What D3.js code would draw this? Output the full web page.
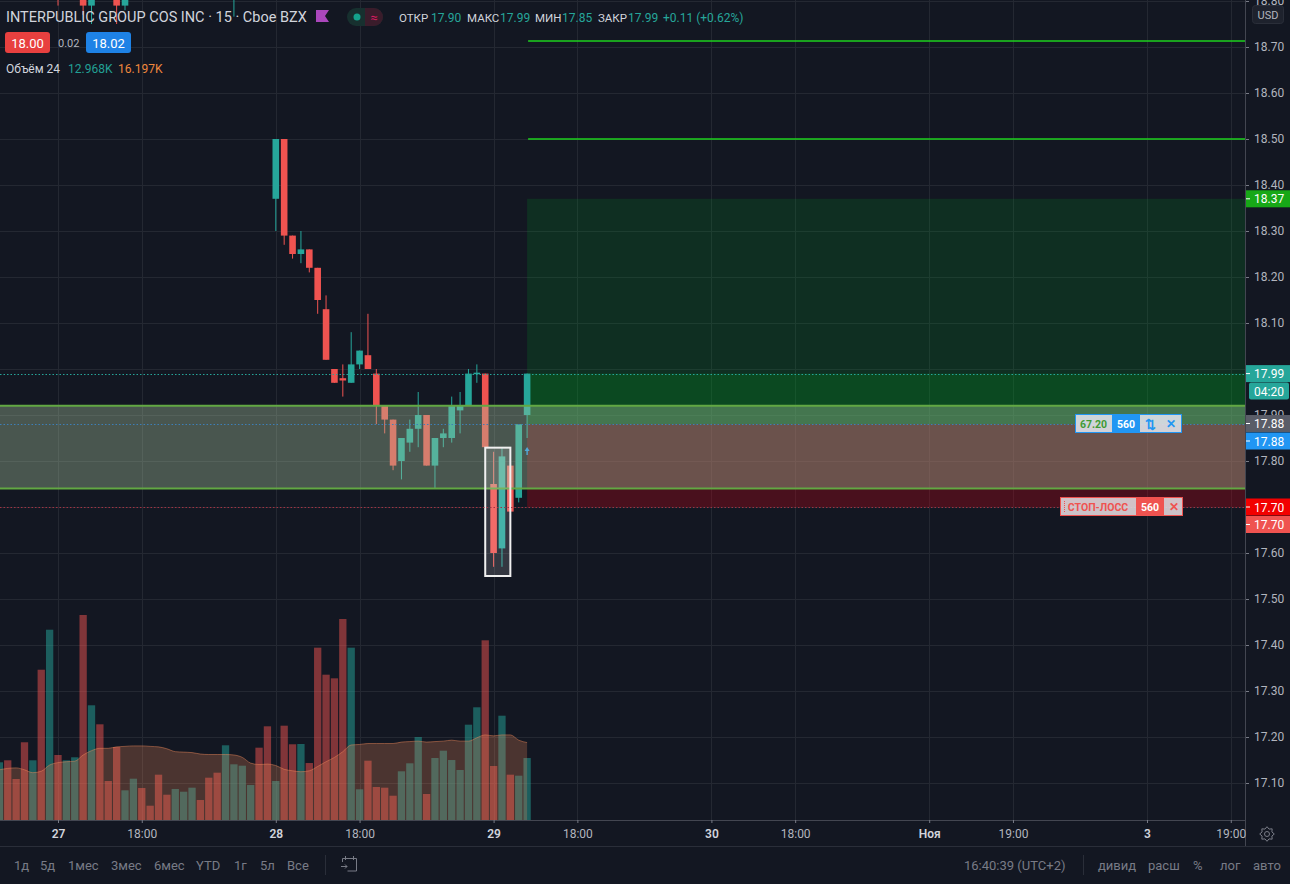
<!DOCTYPE html>
<html>
<head>
<meta charset="utf-8">
<script src="https://cdn.jsdelivr.net/npm/d3@7"></script>
<style>
html, body { margin: 0; padding: 0; background: #131722; }
svg { display: block; font-family: Roboto, "Open Sans", sans-serif; }
</style>
</head>
<body>
<div id="chart"></div>
<script>
// 15 min bars, index 0 = first bar of the 27th
const FIRST_BAR = -7;

const opens = [
    19.02, 19.08, 19.03, 19.00, 18.94, 18.97, 18.90,
    18.92, 18.84, 18.88, 18.90, 18.79, 18.87, 18.84, 18.86, 18.79, 18.84, 18.88, 18.86, 18.85,
    18.83, 18.82, 18.84, 18.86, 18.88, 18.87, 18.85, 18.83, 18.86, 18.90, 18.93, 18.95, 18.90,
    18.37, 18.50, 18.29, 18.25, 18.26, 18.22, 18.13, 18.00, 17.98, 17.97, 18.01, 18.03, 17.99,
    17.92, 17.89, 17.80, 17.84, 17.87, 17.90, 17.79, 17.85, 17.85, 17.91, 17.92, 17.99, 17.99,
    17.75, 17.61, 17.79, 17.72, 17.90
];
const highs = [
    19.10, 19.09, 19.05, 19.01, 18.99, 18.98, 19.00,
    18.95, 18.90, 18.93, 18.92, 18.89, 18.89, 18.86, 18.87, 18.85, 18.90, 18.90, 18.87, 18.86,
    18.84, 18.85, 18.87, 18.89, 18.89, 18.88, 18.86, 18.90, 18.92, 18.95, 18.96, 18.97, 18.91,
    18.50, 18.50, 18.29, 18.30, 18.26, 18.22, 18.16, 18.00, 18.01, 18.08, 18.04, 18.12, 18.00,
    17.92, 17.89, 17.85, 17.89, 17.95, 17.90, 17.85, 17.87, 17.94, 17.95, 18.00, 18.01, 17.99,
    17.82, 17.83, 17.79, 17.88, 17.99
];
const lows = [
    19.00, 19.01, 18.98, 18.92, 18.93, 18.88, 18.89,
    18.79, 18.82, 18.86, 18.77, 18.75, 18.82, 18.81, 18.75, 18.78, 18.83, 18.85, 18.84, 18.82,
    18.81, 18.81, 18.83, 18.85, 18.86, 18.84, 18.82, 18.82, 18.766, 18.89, 18.92, 18.88, 18.82,
    18.30, 18.27, 18.24, 18.23, 18.21, 18.12, 18.02, 17.97, 17.94, 17.97, 18.00, 18.00, 17.88,
    17.86, 17.78, 17.76, 17.82, 17.83, 17.79, 17.74, 17.83, 17.84, 17.86, 17.92, 17.97, 17.83,
    17.57, 17.57, 17.69, 17.71, 17.85
];
const closes = [
    19.08, 19.03, 19.00, 18.94, 18.97, 18.90, 18.98,
    18.84, 18.88, 18.92, 18.79, 18.87, 18.84, 18.82, 18.79, 18.84, 18.88, 18.86, 18.85, 18.83,
    18.82, 18.84, 18.86, 18.88, 18.87, 18.85, 18.83, 18.88, 18.90, 18.93, 18.95, 18.90, 18.84,
    18.50, 18.29, 18.25, 18.26, 18.22, 18.15, 18.02, 17.97, 17.975, 18.01, 18.04, 18.00, 17.92,
    17.89, 17.79, 17.85, 17.87, 17.90, 17.79, 17.85, 17.86, 17.92, 17.92, 17.99, 17.992, 17.83,
    17.60, 17.81, 17.69, 17.88, 17.99
];
// volume, thousands
const volumes = [
    12.07, 12.49, 8.58, 16.26, 12.49, 31.44, 39.81,
    13.60, 12.49, 13.12, 42.89, 24.00, 20.02, 8.16, 15.27, 6.21, 8.64, 6.69, 2.99, 9.48,
    5.29, 6.49, 5.92, 6.76, 4.18, 8.85, 9.90, 15.63, 11.65, 11.36, 7.32, 15.13, 19.60,
    8.16, 19.73, 15.84, 15.90, 11.92, 36.05, 30.40, 29.64, 42.05, 36.05, 6.42, 12.41, 6.90,
    6.76, 5.08, 10.19, 11.86, 17.36, 5.44, 12.97, 14.50, 12.55, 10.46, 19.94, 23.58, 37.59,
    11.30, 21.82, 9.48, 9.27, 12.968
];
// volume MA 24, thousands
const volumeMA = [
    10.5, 10.8, 10.9, 10.5, 9.9, 10.2, 11.5,
    12.0, 12.2, 12.3, 13.6, 14.5, 15.0, 15.0, 15.3, 15.4, 15.5, 15.5, 15.4, 15.3,
    14.9, 14.3, 14.2, 14.1, 13.8, 13.7, 13.7, 13.7, 13.6, 13.1, 11.9, 11.6, 11.7,
    11.4, 10.6, 10.3, 10.1, 10.3, 11.2, 12.2, 13.1, 14.3, 15.7, 15.8, 16.0, 16.0,
    16.0, 16.0, 16.3, 16.4, 16.5, 16.3, 16.4, 16.5, 16.7, 16.5, 16.5, 17.2, 17.8,
    17.6, 17.8, 17.8, 16.7, 16.197
];

const priceTicks = [18.80, 18.70, 18.60, 18.50, 18.40, 18.30, 18.20, 18.10, 18.00,
    17.90, 17.80, 17.70, 17.60, 17.50, 17.40, 17.30, 17.20, 17.10];
const timeTickBars = [0, 10, 26, 36, 52, 62, 78, 88, 104, 114, 130, 140];
const timeTickLabels = ["27", "18:00", "28", "18:00", "29", "18:00", "30", "18:00", "Ноя", "19:00", "3", "19:00"];
const dayLabels = ["27", "28", "29", "30", "Ноя", "3"];

// drawings on the chart
const zonePrices = [17.92, 17.74];
const boxBars = [51, 54];
const boxPrices = [17.829, 17.55];
const positionBar = 56;
const targetPrice = 18.37;
const entryPrice = 17.88;
const stopPrice = 17.70;
const lastPrice = 17.99;
const levelLines = [18.713, 18.50];

const ohlcNames = ["ОТКР", "МАКС", "МИН", "ЗАКР"];
const ohlcValues = ["17.90", "17.99", "17.85", "17.99"];
const rangeButtons = ["1д", "5д", "1мес", "3мес", "6мес", "YTD", "1г", "5л", "Все"];
const rightButtons = ["дивид", "расш", "%", "лог", "авто"];

const W = 1290, H = 884;
const plotRight = 1245, plotBottom = 820;
const UP = "#26a69a", DOWN = "#ef5350";

const bars = opens.map((o, i) => ({
    i: FIRST_BAR + i, o: o, h: highs[i], l: lows[i], c: closes[i],
    v: volumes[i], ma: volumeMA[i]
}));

const x = d3.scaleLinear().domain([0, 130]).range([58, 1147]);
const y = d3.scaleLinear().domain([17.10, 18.70]).range([783, 47]);
const vy = d3.scaleLinear().domain([0, 40]).range([plotBottom, plotBottom - 40 * 4.78]);

const svg = d3.select("#chart").append("svg")
    .attr("width", W).attr("height", H);

svg.append("rect").attr("width", W).attr("height", H).attr("fill", "#131722");

svg.append("defs").append("clipPath").attr("id", "plot")
    .append("rect").attr("x", 0).attr("y", 0).attr("width", plotRight).attr("height", plotBottom);

const plot = svg.append("g").attr("clip-path", "url(#plot)");

/* grid */
plot.append("g").selectAll("line").data(priceTicks).join("line")
    .attr("x1", 0).attr("x2", plotRight)
    .attr("y1", d => Math.round(y(d)) + 0.5).attr("y2", d => Math.round(y(d)) + 0.5)
    .attr("stroke", "#242832");
plot.append("g").selectAll("line").data(timeTickBars).join("line")
    .attr("x1", d => Math.round(x(d)) + 0.5).attr("x2", d => Math.round(x(d)) + 0.5)
    .attr("y1", 0).attr("y2", plotBottom)
    .attr("stroke", "#242832");

/* volume */
plot.append("g").selectAll("rect").data(bars).join("rect")
    .attr("x", d => x(d.i) - 3.65)
    .attr("width", 7.3)
    .attr("y", d => vy(d.v))
    .attr("height", d => plotBottom - vy(d.v))
    .attr("fill", d => d.c >= d.o ? UP : DOWN)
    .attr("fill-opacity", 0.5);

const maArea = d3.area()
    .x(d => x(d.i))
    .y0(plotBottom)
    .y1(d => vy(d.ma))
    .curve(d3.curveMonotoneX);
plot.append("path").datum(bars)
    .attr("d", maArea)
    .attr("fill", "rgba(245,140,90,0.25)");
plot.append("path").datum(bars)
    .attr("d", maArea.lineY1())
    .attr("fill", "none")
    .attr("stroke", "rgba(245,140,90,0.45)");

/* long position tool */
const px0 = x(positionBar);
plot.append("rect")
    .attr("x", px0).attr("width", plotRight - px0)
    .attr("y", y(targetPrice)).attr("height", y(entryPrice) - y(targetPrice))
    .attr("fill", "rgba(0,160,40,0.18)");
plot.append("rect")
    .attr("x", px0).attr("width", plotRight - px0)
    .attr("y", y(lastPrice)).attr("height", y(entryPrice) - y(lastPrice))
    .attr("fill", "rgba(0,170,30,0.22)");
plot.append("rect")
    .attr("x", px0).attr("width", plotRight - px0)
    .attr("y", y(entryPrice)).attr("height", y(stopPrice) - y(entryPrice))
    .attr("fill", "rgba(200,0,20,0.3)");

/* candles */
const candle = plot.append("g").selectAll("g").data(bars).join("g");
candle.append("line")
    .attr("x1", d => x(d.i)).attr("x2", d => x(d.i))
    .attr("y1", d => y(d.h)).attr("y2", d => y(d.l))
    .attr("stroke", d => d.c >= d.o ? UP : DOWN);
candle.append("rect")
    .attr("x", d => x(d.i) - 3.3)
    .attr("width", 6.6)
    .attr("y", d => y(Math.max(d.o, d.c)))
    .attr("height", d => Math.max(1.5, Math.abs(y(d.o) - y(d.c))))
    .attr("fill", d => d.c >= d.o ? UP : DOWN);

// execution marker
plot.append("path")
    .attr("d", `M${x(positionBar)},447 l-2.5,4 h1.8 v4 h1.4 v-4 h1.8 z`)
    .attr("fill", "#2196f3");

/* zone rectangle */
plot.append("rect")
    .attr("x", -5).attr("width", plotRight + 5)
    .attr("y", y(zonePrices[0])).attr("height", y(zonePrices[1]) - y(zonePrices[0]))
    .attr("fill", "rgba(170,200,160,0.36)");
plot.append("g").selectAll("line").data(zonePrices).join("line")
    .attr("x1", 0).attr("x2", plotRight)
    .attr("y1", d => y(d)).attr("y2", d => y(d))
    .attr("stroke", "#62a843").attr("stroke-width", 2);

/* box around the two candles */
plot.append("rect")
    .attr("x", x(boxBars[0])).attr("width", x(boxBars[1]) - x(boxBars[0]))
    .attr("y", y(boxPrices[0])).attr("height", y(boxPrices[1]) - y(boxPrices[0]))
    .attr("fill", "rgba(255,255,255,0.14)")
    .attr("stroke", "#f0f0f0").attr("stroke-width", 2);

/* price lines */
const priceLines = [
    { p: lastPrice, color: "#26a69a" },
    { p: entryPrice, color: "#3d7fb8" },
    { p: stopPrice, color: "#a03343" }
];
plot.append("g").selectAll("line").data(priceLines).join("line")
    .attr("x1", 0).attr("x2", plotRight)
    .attr("y1", d => Math.round(y(d.p)) + 0.5).attr("y2", d => Math.round(y(d.p)) + 0.5)
    .attr("stroke", d => d.color)
    .attr("stroke-dasharray", "1.5,2");

// horizontal rays
plot.append("g").selectAll("line").data(levelLines).join("line")
    .attr("x1", px0 + 1).attr("x2", plotRight)
    .attr("y1", d => Math.round(y(d))).attr("y2", d => Math.round(y(d)))
    .style("stroke", "#1ed21e").style("stroke-width", 1.6);

/* order labels */
const orderLabel = (cells, top, border) => {
    const g = svg.append("g");
    cells.forEach(c => {
        g.append("rect")
            .attr("x", c.x0).attr("width", c.x1 - c.x0)
            .attr("y", top).attr("height", 19)
            .attr("fill", c.bg);
        g.append("text")
            .attr("x", (c.x0 + c.x1) / 2).attr("y", top + 10)
            .attr("text-anchor", "middle").attr("dominant-baseline", "central")
            .attr("font-size", c.size || 10.5).attr("font-weight", 700)
            .attr("fill", c.fg).text(c.t);
    });
    g.append("rect")
        .attr("x", cells[0].x0 + 0.5).attr("width", cells[cells.length - 1].x1 - cells[0].x0 - 1)
        .attr("y", top + 0.5).attr("height", 18)
        .attr("fill", "none").attr("stroke", border);
    return g;
};
const light = "rgba(222,224,232,0.9)";
orderLabel([
    { x0: 1075, x1: 1112, bg: light, fg: "#3e9b35", t: "67.20" },
    { x0: 1112, x1: 1140, bg: "#2196f3", fg: "#fff", t: "560" },
    { x0: 1140, x1: 1160, bg: light, fg: "#2196f3", t: "⇅", size: 13 },
    { x0: 1160, x1: 1182, bg: light, fg: "#2196f3", t: "✕", size: 12 }
], 414, "#2196f3");
const stopG = orderLabel([
    { x0: 1060, x1: 1136, bg: "rgba(225,214,218,0.9)", fg: "#ef5350", t: "СТОП-ЛОСС" },
    { x0: 1136, x1: 1164, bg: "#ef5350", fg: "#fff", t: "560" },
    { x0: 1164, x1: 1183, bg: "rgba(225,214,218,0.9)", fg: "#ef5350", t: "✕", size: 12 }
], 497, "#ef5350");
stopG.append("line").attr("x1", 1064.5).attr("x2", 1064.5).attr("y1", 501).attr("y2", 513)
    .attr("stroke", "#ef5350").attr("stroke-dasharray", "1,1");

/* right price axis */
svg.append("rect").attr("x", plotRight).attr("y", 0).attr("width", W - plotRight).attr("height", 846)
    .attr("fill", "#131722");
const yAxis = svg.append("g")
    .attr("transform", `translate(${plotRight},0)`)
    .call(d3.axisRight(y).tickValues(priceTicks).tickFormat(d3.format(".2f")).tickSize(4).tickPadding(5));
yAxis.select(".domain").remove();
yAxis.selectAll("line").attr("stroke", "#787b86");
yAxis.selectAll("text").attr("fill", "#b2b5be").attr("font-size", 12).attr("font-family", "Roboto, sans-serif");
// the 18.00 label sits fully under the last price badge
yAxis.selectAll(".tick").filter(d => Math.abs(d - lastPrice) < 0.02).remove();

svg.append("line").attr("x1", plotRight + 0.5).attr("x2", plotRight + 0.5).attr("y1", 0).attr("y2", 846)
    .attr("stroke", "#434651");

// currency box
svg.append("rect").attr("x", 1252.5).attr("y", 5.5).attr("width", 31).attr("height", 18).attr("rx", 3)
    .attr("fill", "#1e222d").attr("stroke", "#2a2e39");
svg.append("text").attr("x", 1268).attr("y", 15).attr("text-anchor", "middle").attr("dominant-baseline", "central")
    .attr("font-size", 11).attr("fill", "#b2b5be").text("USD");

const badges = [
    { p: targetPrice, t: "18.37", bg: "#17a817" },
    { p: lastPrice, t: "17.99", bg: "#26a69a" },
    { yc: 391, t: "04:20", bg: "#26a69a", x0: 1249, x1: 1289, noTick: true },
    { p: entryPrice, yc: 423.5, t: "17.88", bg: "#5a5d68" },
    { p: entryPrice, yc: 441, t: "17.88", bg: "#2196f3" },
    { p: stopPrice, yc: 507, t: "17.70", bg: "#f20000" },
    { p: stopPrice, yc: 524.5, t: "17.70", bg: "#ef5350" }
];
const badge = svg.append("g").selectAll("g").data(badges).join("g");
badge.append("rect")
    .attr("x", d => d.x0 || plotRight + 1)
    .attr("width", d => (d.x1 || W) - (d.x0 || plotRight + 1))
    .attr("y", d => (d.yc || y(d.p)) - 8.5)
    .attr("height", 17)
    .attr("rx", d => d.x0 ? 2 : 0)
    .attr("fill", d => d.bg);
badge.filter(d => !d.noTick).append("line")
    .attr("x1", plotRight + 1).attr("x2", plotRight + 5)
    .attr("y1", d => d.yc || y(d.p)).attr("y2", d => d.yc || y(d.p))
    .attr("stroke", "#fff");
badge.append("text")
    .attr("x", 1254)
    .attr("y", d => (d.yc || y(d.p)) + 0.5)
    .attr("dominant-baseline", "central")
    .attr("font-size", 12).attr("fill", "#fff")
    .text(d => d.t);

/* time axis */
svg.append("line").attr("x1", 0).attr("x2", plotRight).attr("y1", plotBottom + 0.5).attr("y2", plotBottom + 0.5)
    .attr("stroke", "#434651");
const xAxis = svg.append("g")
    .attr("transform", `translate(0,${plotBottom})`)
    .call(d3.axisBottom(x).tickValues(timeTickBars)
        .tickFormat((d, i) => timeTickLabels[i]).tickSize(3).tickPadding(6.5));
xAxis.select(".domain").remove();
xAxis.selectAll("line").attr("stroke", "#787b86");
xAxis.selectAll("text")
    .attr("font-size", 12)
    .attr("font-family", "Roboto, sans-serif")
    .attr("fill", (d, i) => dayLabels.includes(timeTickLabels[i]) ? "#d1d4dc" : "#b2b5be")
    .attr("font-weight", (d, i) => dayLabels.includes(timeTickLabels[i]) ? 600 : 400);

// settings gear
const gearPts = d3.range(17).map(k => [k * Math.PI / 8, k % 2 ? 5.3 : 7.3]);
svg.append("path")
    .attr("transform", "translate(1267,834)")
    .attr("d", d3.lineRadial().curve(d3.curveLinearClosed)(gearPts))
    .attr("fill", "none").attr("stroke", "#787b86");
svg.append("circle").attr("cx", 1267).attr("cy", 834).attr("r", 2.5).attr("fill", "none").attr("stroke", "#787b86");

/* bottom toolbar */
svg.append("line").attr("x1", 0).attr("x2", W).attr("y1", 846.5).attr("y2", 846.5).attr("stroke", "#2a2e39");
const rangeX = [14, 40, 68, 111, 154, 196, 234, 260, 287];
svg.append("g").selectAll("text").data(rangeButtons).join("text")
    .attr("x", (d, i) => rangeX[i]).attr("y", 865)
    .attr("dominant-baseline", "central")
    .attr("font-size", 13).attr("fill", "#787b86")
    .text(d => d);
svg.append("line").attr("x1", 325.5).attr("x2", 325.5).attr("y1", 855).attr("y2", 875).attr("stroke", "#2a2e39");
svg.append("path")
    .attr("d", "M342.5,862 v-3.5 h14 v12.5 h-9 M345.5,856 v4 M353.5,856 v4 M341,866.5 h6 m-2,-2 l2,2 l-2,2")
    .attr("fill", "none").attr("stroke", "#787b86");

svg.append("text").attr("x", 964).attr("y", 865).attr("dominant-baseline", "central")
    .attr("font-size", 13).attr("fill", "#787b86").text("16:40:39 (UTC+2)");
svg.append("line").attr("x1", 1083.5).attr("x2", 1083.5).attr("y1", 855).attr("y2", 875).attr("stroke", "#2a2e39");
const rightX = [1098, 1148, 1193, 1220, 1253];
svg.append("g").selectAll("text").data(rightButtons).join("text")
    .attr("x", (d, i) => rightX[i]).attr("y", 865)
    .attr("dominant-baseline", "central")
    .attr("font-size", 13).attr("fill", "#787b86")
    .text(d => d);

/* legend */
svg.append("text").attr("x", 6).attr("y", 22)
    .attr("font-size", 14.5).attr("fill", "#d1d4dc")
    .text("INTERPUBLIC GROUP COS INC · 15 · Cboe BZX");
svg.append("path").attr("d", "M316,10 H329 L325,16 L329,22 H316 Z").attr("fill", "#ab47bc");
svg.append("rect").attr("x", 347).attr("y", 8).attr("width", 36).attr("height", 18).attr("rx", 9).attr("fill", "#17302f");
svg.append("path").attr("d", "M365,8 H374 A9,9 0 0 1 374,26 H365 Z").attr("fill", "#3a1c2b");
svg.append("circle").attr("cx", 357).attr("cy", 17).attr("r", 3.5).attr("fill", "#14a38c");
svg.append("text").attr("x", 374).attr("y", 17.5).attr("text-anchor", "middle").attr("dominant-baseline", "central")
    .attr("font-size", 13).attr("fill", "#d81b60").text("≈");

const nameX = [399, 467, 535, 598];
const valX = [431, 500, 562, 628];
ohlcNames.forEach((n, i) => {
    svg.append("text").attr("x", nameX[i]).attr("y", 22).attr("font-size", 11.5).attr("fill", "#d1d4dc").text(n);
    svg.append("text").attr("x", valX[i]).attr("y", 22).attr("font-size", 12).attr("fill", UP).text(ohlcValues[i]);
});
svg.append("text").attr("x", 663).attr("y", 22).attr("font-size", 12).attr("fill", UP).text("+0.11 (+0.62%)");

svg.append("rect").attr("x", 5).attr("y", 32).attr("width", 45).attr("height", 21).attr("rx", 3).attr("fill", "#e8403f");
svg.append("text").attr("x", 27.5).attr("y", 43).attr("text-anchor", "middle").attr("dominant-baseline", "central")
    .attr("font-size", 13).attr("fill", "#fff").text("18.00");
svg.append("text").attr("x", 58).attr("y", 43).attr("dominant-baseline", "central")
    .attr("font-size", 11).attr("fill", "#b2b5be").text("0.02");
svg.append("rect").attr("x", 86).attr("y", 32).attr("width", 45).attr("height", 21).attr("rx", 3).attr("fill", "#1e82e6");
svg.append("text").attr("x", 108.5).attr("y", 43).attr("text-anchor", "middle").attr("dominant-baseline", "central")
    .attr("font-size", 13).attr("fill", "#fff").text("18.02");

svg.append("text").attr("x", 6).attr("y", 73).attr("font-size", 12).attr("fill", "#d1d4dc").text("Объём 24");
svg.append("text").attr("x", 68).attr("y", 73).attr("font-size", 12).attr("fill", "#22a095").text("12.968K");
svg.append("text").attr("x", 118).attr("y", 73).attr("font-size", 12).attr("fill", "#f0883e").text("16.197K");
</script>
</body>
</html>
